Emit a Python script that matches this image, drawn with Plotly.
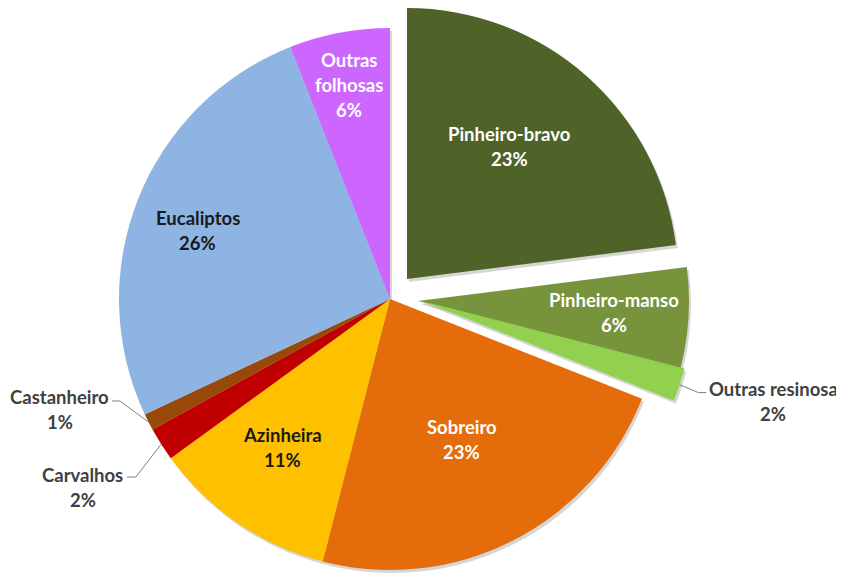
import math
import plotly.graph_objects as go

# ---------------- data ----------------
categories = ["Pinheiro-bravo", "Pinheiro-manso", "Outras resinosa", "Sobreiro",
              "Azinheira", "Carvalhos", "Castanheiro", "Eucaliptos", "Outras folhosas"]
values = [23, 6, 2, 23, 11, 2, 1, 26, 6]

# ---------------- style ----------------
colors = ["#4F6228", "#77933C", "#92D050", "#E46C0A", "#FFC000",
          "#C00000", "#984807", "#8EB4E3", "#CC66FF"]
W, H = 844, 573
OFF = 8                            # page body margin
CX, CY, R = 390, 299, 271          # pie centre / radius in window px
# exploded slices: pixel offset of their centre
explode = {"Pinheiro-bravo": (17, -20), "Pinheiro-manso": (28, 2), "Outras resinosa": (32, 2)}
SHADOW = (2, 3)
SHADOW_COLOR = "rgba(0,0,0,0.16)"
# label placement: (radius fraction, angle tweak in deg, text colour, shown name)
label_style = {
    "Pinheiro-bravo": (0.625, -4.0, "white", "Pinheiro-bravo"),
    "Pinheiro-manso": (0.725, -0.7, "white", "Pinheiro-manso"),
    "Outras resinosa": (1.346, -2.4, "#404040", "Outras resinosa"),
    "Sobreiro": (0.575, -0.4, "white", "Sobreiro"),
    "Azinheira": (0.67, 2.1, "#1a1a1a", "Azinheira"),
    "Carvalhos": (1.325, 1.2, "#404040", "Carvalhos"),
    "Castanheiro": (1.282, 8.8, "#404040", "Castanheiro"),
    "Eucaliptos": (0.756, -1.4, "#1a1a1a", "Eucaliptos"),
    "Outras folhosas": (0.812, 0.1, "white", "Outras<br>folhosas"),
}
# leader lines for outside labels: (x offset of text end, y offset, x offset of elbow) from label centre
leaders = {
    "Outras resinosa": (-67, 0, -75),
    "Carvalhos": (44, -1.5, 53),
    "Castanheiro": (52, 0, 60),
}
FONT = "Lato, Calibri, Carlito, sans-serif"
FSIZE = 18.5
LINE_GAP = 25
TEXT_DY = 2
TRANSPARENT = "rgba(0,0,0,0)"


def to_paper(px, py):
    return (px - OFF) / W, 1 - (py - OFF) / H


def pie_trace(cx, cy, slice_colors):
    x0, y1 = to_paper(cx - R, cy - R)
    x1, y0 = to_paper(cx + R, cy + R)
    return go.Pie(
        labels=categories, values=values, sort=False, direction="clockwise",
        rotation=0, textinfo="none", showlegend=False,
        marker=dict(colors=slice_colors, line=dict(width=0)),
        domain=dict(x=[max(0, x0), min(1, x1)], y=[max(0, y0), min(1, y1)]),
        hoverinfo="label+percent",
    )


fig = go.Figure()
groups = [(None, (0, 0))] + list(explode.items())
for shadow in (True, False):
    for name, (dx, dy) in groups:
        if name is None:
            keep = [c not in explode for c in categories]
        else:
            keep = [c == name for c in categories]
        cols = [(SHADOW_COLOR if shadow else col) if k else TRANSPARENT
                for k, col in zip(keep, colors)]
        sx, sy = SHADOW if shadow else (0, 0)
        fig.add_trace(pie_trace(CX + dx + sx, CY + dy + sy, cols))

total = sum(values)
cum = 0
annotations = []
shapes = []
for name, v in zip(categories, values):
    mid = 360.0 * (cum + v / 2) / total
    cum += v
    dx, dy = explode.get(name, (0, 0))
    ccx, ccy = CX + dx, CY + dy
    rf, tweak, tcol, shown = label_style[name]
    a = math.radians(mid + tweak)
    lx = ccx + rf * R * math.sin(a)
    ly = ccy - rf * R * math.cos(a)
    lines = shown.split("<br>") + [f"{v}%"]
    n = len(lines)
    for i, txt in enumerate(lines):
        py = ly + (i - (n - 1) / 2) * LINE_GAP + TEXT_DY
        xp, yp = to_paper(lx, py)
        annotations.append(dict(
            x=xp, y=yp, xref="paper", yref="paper", text=txt, showarrow=False,
            xanchor="center", yanchor="middle",
            font=dict(family=FONT, size=FSIZE, color=tcol, weight="bold"),
        ))
    if name in leaders:
        tx, ty, ex = leaders[name]
        am = math.radians(mid)
        edge = (ccx + R * math.sin(am), ccy - R * math.cos(am))
        p1 = to_paper(lx + tx, ly - LINE_GAP / 2 + ty + 6)
        p2 = to_paper(lx + ex, ly - LINE_GAP / 2 + ty + 6)
        p3 = to_paper(*edge)
        shapes.append(dict(
            type="path", xref="paper", yref="paper",
            path=f"M {p1[0]} {p1[1]} L {p2[0]} {p2[1]} L {p3[0]} {p3[1]}",
            line=dict(color="#7f7f7f", width=1),
        ))

fig.update_layout(
    width=W, height=H, margin=dict(l=0, r=0, t=0, b=0),
    paper_bgcolor="white", plot_bgcolor="white",
    annotations=annotations, shapes=shapes,
)
fig.write_html("out.html")
